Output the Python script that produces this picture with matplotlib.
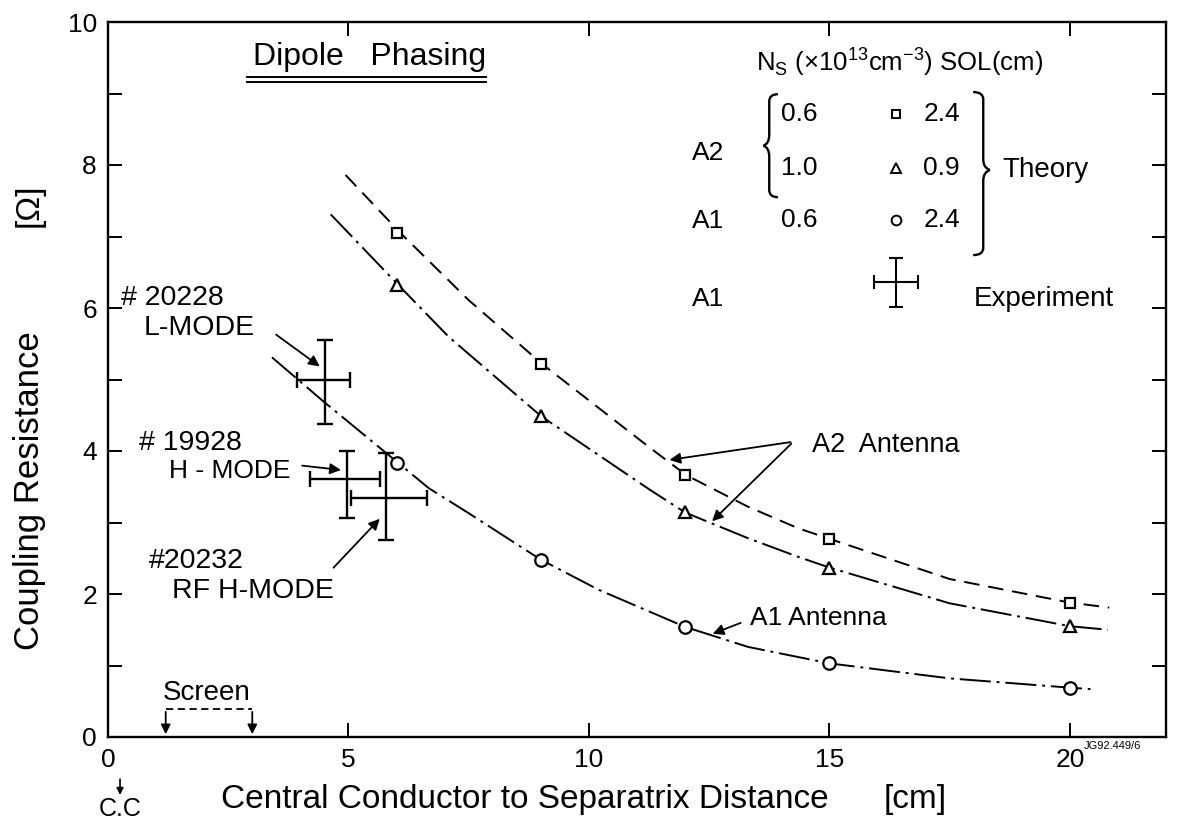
import matplotlib as mpl
mpl.use("Agg")
import matplotlib.pyplot as plt
from matplotlib import font_manager
from matplotlib.path import Path
from matplotlib.patches import PathPatch

names = {f.name for f in font_manager.fontManager.ttflist}
font = "Liberation Sans Narrow" if "Liberation Sans Narrow" in names else "Liberation Sans"
plt.rcParams['font.family'] = [font, 'DejaVu Sans']
plt.rcParams['mathtext.fontset'] = 'custom'
plt.rcParams['mathtext.rm'] = font

# theory points (A2: Ns=0.6 SOL 2.4 / Ns=1.0 SOL 0.9, A1: Ns=0.6 SOL 2.4)
theory_x = [6, 9, 12, 15, 20]
a2_sol24 = [7.05, 5.21, 3.66, 2.77, 1.88]
a2_sol09 = [6.32, 4.49, 3.14, 2.37, 1.55]
a1_sol24 = [3.83, 2.48, 1.54, 1.03, 0.69]

# drawn curves
c_a2_sol24_x = [4.94, 6.08, 7.5, 9.04, 11.24, 12.03, 13.31, 14.35, 15.01, 17.5, 20.0, 20.82]
c_a2_sol24_y = [7.86, 7.05, 6.11, 5.21, 4.06, 3.66, 3.22, 2.92, 2.77, 2.21, 1.88, 1.81]
c_a2_sol09_x = [4.63, 6.04, 7.08, 9.0, 11.24, 12.0, 13.31, 14.35, 15.0, 17.5, 20.0, 20.79]
c_a2_sol09_y = [7.31, 6.32, 5.60, 4.49, 3.47, 3.14, 2.78, 2.52, 2.37, 1.87, 1.55, 1.50]
c_a1_sol24_x = [3.41, 4.45, 6.04, 6.67, 7.5, 9.0, 10.2, 12.0, 13.31, 15.0, 17.5, 20.0, 20.43]
c_a1_sol24_y = [5.31, 4.71, 3.83, 3.48, 3.13, 2.48, 2.06, 1.54, 1.26, 1.03, 0.82, 0.69, 0.67]

# experiment (A1)
exp_x = [4.51, 4.98, 5.79]
exp_y = [4.99, 3.61, 3.34]
exp_x_lo = [3.93, 4.20, 5.05]
exp_x_hi = [5.03, 5.65, 6.63]
exp_y_lo = [4.38, 3.06, 2.76]
exp_y_hi = [5.55, 4.00, 3.97]

fig = plt.figure(figsize=(11.77, 8.24), dpi=100)
ax = fig.add_axes([108 / 1177, 1 - 737 / 824, (1166 - 108) / 1177, (737 - 22) / 824])
ax.set_xlim(0, 22)
ax.set_ylim(0, 10)

lw = 1.4
ax.plot(c_a2_sol24_x, c_a2_sol24_y, color='k', lw=lw, dashes=(8, 4.5))
ax.plot(c_a2_sol09_x, c_a2_sol09_y, color='k', lw=lw, dashes=(16, 3, 1.5, 3))
ax.plot(c_a1_sol24_x, c_a1_sol24_y, color='k', lw=lw, dashes=(16, 3, 1.5, 3))
ax.plot(theory_x, a2_sol24, 's', ms=7, mfc='white', mec='k', mew=1.6)
ax.plot(theory_x, a2_sol09, '^', ms=9, mfc='white', mec='k', mew=1.6)
ax.plot(theory_x, a1_sol24, 'o', ms=9, mfc='white', mec='k', mew=1.6)

xerr = [[x - lo for x, lo in zip(exp_x, exp_x_lo)], [hi - x for x, hi in zip(exp_x, exp_x_hi)]]
yerr = [[y - lo for y, lo in zip(exp_y, exp_y_lo)], [hi - y for y, hi in zip(exp_y, exp_y_hi)]]
ax.errorbar(exp_x, exp_y, xerr=xerr, yerr=yerr, fmt='none', ecolor='k', elinewidth=1.7, capsize=6, capthick=1.7)

# axes styling
ax.set_xticks([0, 5, 10, 15, 20])
ax.set_yticks(range(0, 11, 2))
ax.set_yticks(range(1, 10, 2), minor=True)
ax.tick_params(direction='in', length=10, width=1.4, top=True, right=True, labelsize=19, pad=8)
ax.tick_params(which='minor', direction='in', length=10, width=1.4, right=True)
for s in ax.spines.values():
    s.set_linewidth(1.7)

kw = dict(color='k', clip_on=False)
ax.text(8.66, -0.88, "Central Conductor to Separatrix Distance", fontsize=24, ha='center', va='center', **kw)
ax.text(16.78, -0.88, "[cm]", fontsize=24, ha='center', va='center', **kw)
ax.text(-1.64, 3.45, "Coupling Resistance", fontsize=25, rotation=90, ha='center', va='center', **kw)
ax.text(-1.64, 7.44, "[Ω]", fontsize=24, rotation=90, ha='center', va='center', **kw)
ax.text(0.25, -1.0, "C.C", fontsize=18, ha='center', va='center', **kw)
ax.annotate('', xy=(0.25, -0.85), xytext=(0.25, -0.55), annotation_clip=False,
            arrowprops=dict(arrowstyle='-|>', color='k', lw=1.2, mutation_scale=10))
ax.text(20.3, -0.12, "JG92.449/6", fontsize=8, ha='left', va='center', **kw)

# title
ax.text(5.44, 9.40, "Dipole   Phasing", fontsize=23, ha='center', va='baseline')
ax.plot([2.89, 7.87], [9.23, 9.23], color='k', lw=1.4)
ax.plot([2.89, 7.87], [9.16, 9.16], color='k', lw=1.4)

# screen
ax.text(2.05, 0.62, "Screen", fontsize=20, ha='center', va='center')
ax.plot([1.2, 3.0], [0.39, 0.39], color='k', lw=1.3, dashes=(4, 2.5))
for xs in (1.2, 3.0):
    ax.annotate('', xy=(xs, 0.0), xytext=(xs, 0.39),
                arrowprops=dict(arrowstyle='-|>', color='k', lw=1.3, mutation_scale=14))

# shot labels
fs = 20.5
ax.text(0.27, 6.04, "# 20228", fontsize=fs, ha='left', va='baseline')
ax.text(0.75, 5.62, "L-MODE", fontsize=fs, ha='left', va='baseline')
ax.text(0.64, 4.01, "# 19928", fontsize=fs, ha='left', va='baseline')
ax.text(1.27, 3.62, "H - MODE", fontsize=19, ha='left', va='baseline')
ax.text(0.85, 2.36, "#20232", fontsize=fs, ha='left', va='baseline')
ax.text(1.33, 1.94, "RF H-MODE", fontsize=fs, ha='left', va='baseline')
ap = dict(arrowstyle='-|>', color='k', lw=1.3, mutation_scale=16)
ax.annotate('', xy=(4.45, 5.16), xytext=(3.45, 5.65), arrowprops=ap)
ax.annotate('', xy=(4.90, 3.73), xytext=(3.98, 3.80), arrowprops=ap)
ax.annotate('', xy=(5.69, 3.08), xytext=(4.65, 2.34), arrowprops=ap)

# antenna labels
ax.text(14.64, 4.08, "A2  Antenna", fontsize=19.5, ha='left', va='center')
ax.annotate('', xy=(11.62, 3.87), xytext=(14.25, 4.13), arrowprops=ap)
ax.annotate('', xy=(12.52, 2.99), xytext=(14.25, 4.13), arrowprops=ap)
ax.text(13.35, 1.66, "A1 Antenna", fontsize=19, ha='left', va='center')
ax.annotate('', xy=(12.52, 1.43), xytext=(13.21, 1.61), arrowprops=ap)

# key
lf = 19
ax.text(16.45, 9.45, r"N$_{\mathregular{S}}$ (×10$^{\mathregular{13}}$cm$^{\mathregular{-3}}$) SOL(cm)",
        fontsize=18.5, ha='center', va='center')
ax.text(12.15, 8.17, "A2", fontsize=lf, ha='left', va='center')
ax.text(12.15, 7.22, "A1", fontsize=lf, ha='left', va='center')
ax.text(12.15, 6.13, "A1", fontsize=lf, ha='left', va='center')
for yy, ns, sol, mk, ms in [(8.71, "0.6", "2.4", 's', 6), (7.96, "1.0", "0.9", '^', 7), (7.23, "0.6", "2.4", 'o', 7)]:
    ax.text(14.0, yy, ns, fontsize=lf, ha='left', va='center')
    ax.plot([16.39], [yy], mk, ms=ms, mfc='white', mec='k', mew=1.4)
    ax.text(16.95, yy, sol, fontsize=lf, ha='left', va='center')
ax.text(18.6, 7.93, "Theory", fontsize=20, ha='left', va='center')
ax.errorbar([16.39], [6.36], xerr=0.46, yerr=0.34, fmt='none', ecolor='k', elinewidth=1.5, capsize=5, capthick=1.5)
ax.text(18.0, 6.13, "Experiment", fontsize=20, ha='left', va='center')


def brace(x, y0, y1, w, tip):
    # curly brace: x is the back (vertical) line, tip at x + 0.4*w
    ym = tip
    verts = [(x - w * 0.6, y1), (x, y1), (x, y1 - 0.1), (x, ym + 0.15),
             (x, ym + 0.03), (x + w * 0.4, ym), (x + w * 0.4, ym)]
    verts += [(x + w * 0.4, ym), (x, ym - 0.03), (x, ym - 0.15),
              (x, y0 + 0.1), (x, y0), (x - w * 0.6, y0)]
    codes = [Path.MOVETO, Path.CURVE3, Path.CURVE3, Path.LINETO,
             Path.CURVE3, Path.CURVE3, Path.LINETO,
             Path.MOVETO, Path.CURVE3, Path.CURVE3, Path.LINETO,
             Path.CURVE3, Path.CURVE3]
    ax.add_patch(PathPatch(Path(verts, codes), fc='none', ec='k', lw=1.7))


brace(13.75, 7.55, 8.99, -0.3, 8.27)
brace(18.2, 6.74, 9.02, 0.35, 7.93)

fig.savefig("out.png", dpi=100)
